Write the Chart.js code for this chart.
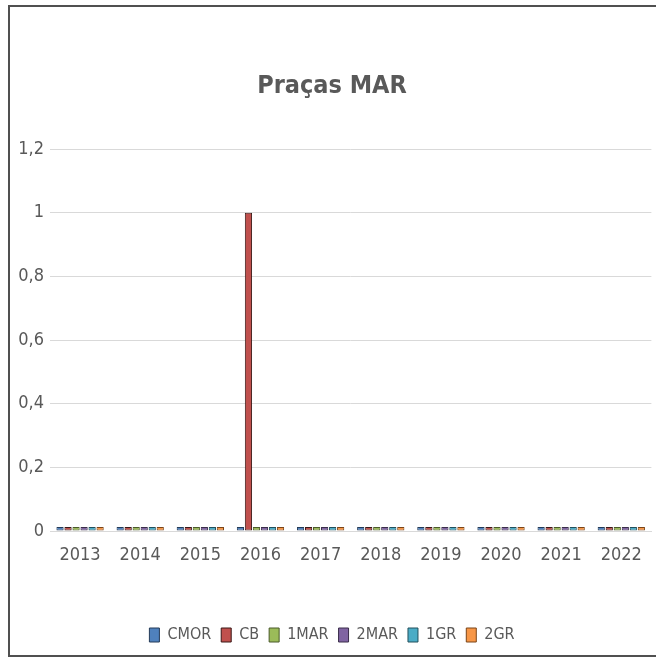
<!DOCTYPE html>
<html>
<head>
<meta charset="utf-8">
<script src="https://cdn.jsdelivr.net/npm/chart.js@4"></script>
<style>
  html, body { margin: 0; padding: 0; background: #fff; }
  #wrap { position: relative; width: 656px; height: 659px; }
  #frame {
    position: absolute; left: 8px; top: 5px; width: 700px; height: 648px;
    border: 2px solid #505050; pointer-events: none;
  }
</style>
</head>
<body>
<div id="wrap">
  <canvas id="chart" width="656" height="659"></canvas>
  <div id="frame"></div>
</div>
<script>
// Data
const years = ['2013', '2014', '2015', '2016', '2017', '2018', '2019', '2020', '2021', '2022'];
const cmor = [0, 0, 0, 0, 0, 0, 0, 0, 0, 0];
const cb = [0, 0, 0, 1, 0, 0, 0, 0, 0, 0];
const mar1 = [0, 0, 0, 0, 0, 0, 0, 0, 0, 0];
const mar2 = [0, 0, 0, 0, 0, 0, 0, 0, 0, 0];
const gr1 = [0, 0, 0, 0, 0, 0, 0, 0, 0, 0];
const gr2 = [0, 0, 0, 0, 0, 0, 0, 0, 0, 0];
const yTicks = [0, 0.2, 0.4, 0.6, 0.8, 1, 1.2];

const fontFamily = "'DejaVu Sans Condensed', 'Liberation Sans', sans-serif";
const textColor = '#595959';

function series(label, data, color, edge) {
  return {
    label: label,
    data: data,
    backgroundColor: color,
    borderColor: edge,
    borderWidth: 1,
    borderSkipped: false,
    minBarLength: 4,
    categoryPercentage: 0.8,
    barPercentage: 0.9,
  };
}

const ctx = document.getElementById('chart').getContext('2d');
new Chart(ctx, {
  type: 'bar',
  data: {
    labels: years,
    datasets: [
      series('CMOR', cmor, '#4F81BD', '#243b58'),
      series('CB', cb, '#C0504D', '#3a1817'),
      series('1MAR', mar1, '#9BBB59', '#4a5a2a'),
      series('2MAR', mar2, '#8064A2', '#3a2d4a'),
      series('1GR', gr1, '#4BACC6', '#22505c'),
      series('2GR', gr2, '#F79646', '#7a4418'),
    ],
  },
  options: {
    responsive: false,
    animation: false,
    layout: {
      padding: { top: 71, right: 2, bottom: 6, left: 10 },
    },
    plugins: {
      title: {
        display: true,
        text: 'Praças MAR',
        color: textColor,
        font: { family: fontFamily, size: 25, weight: 'bold' },
        padding: { top: 0, bottom: 48 },
      },
      legend: {
        position: 'bottom',
        labels: {
          color: textColor,
          font: { family: fontFamily, size: 16 },
          boxWidth: 10,
          boxHeight: 14,
          padding: 10,
        },
      },
      tooltip: { enabled: false },
    },
    scales: {
      x: {
        afterFit: (scale) => {
          scale.height = 86;
        },
        grid: { display: false, drawTicks: false },
        border: { display: true, color: '#d9d9d9', width: 1 },
        ticks: {
          color: textColor,
          font: { family: fontFamily, size: 18 },
          padding: 14,
        },
      },
      y: {
        min: 0,
        max: 1.2,
        afterFit: (scale) => {
          scale.width = 40;
        },
        afterBuildTicks: (scale) => {
          scale.ticks = yTicks.map((v) => ({ value: v }));
        },
        grid: { color: '#d9d9d9', drawTicks: false },
        border: { display: false },
        ticks: {
          color: textColor,
          font: { family: fontFamily, size: 18 },
          padding: 6,
          callback: (v) => String(Number(v.toFixed(1))).replace('.', ','),
        },
      },
    },
  },
});
</script>
</body>
</html>
